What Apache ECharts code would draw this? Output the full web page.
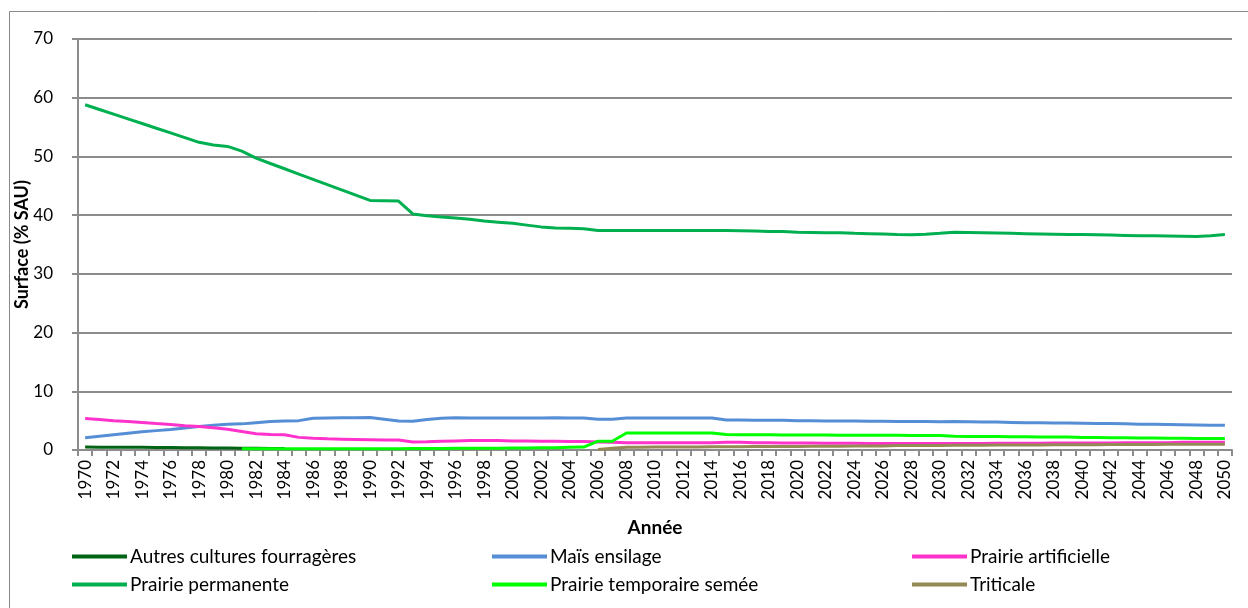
<!DOCTYPE html>
<html>
<head>
<meta charset="utf-8">
<script src="https://cdn.jsdelivr.net/npm/echarts@6/dist/echarts.min.js"></script>
<style>
html,body{margin:0;padding:0;background:#fff;}
#c{width:1248px;height:608px;}
</style>
</head>
<body>
<div id="c"></div>
<script>
var years = ['1970','1971','1972','1973','1974','1975','1976','1977','1978','1979',
'1980','1981','1982','1983','1984','1985','1986','1987','1988','1989',
'1990','1991','1992','1993','1994','1995','1996','1997','1998','1999',
'2000','2001','2002','2003','2004','2005','2006','2007','2008','2009',
'2010','2011','2012','2013','2014','2015','2016','2017','2018','2019',
'2020','2021','2022','2023','2024','2025','2026','2027','2028','2029',
'2030','2031','2032','2033','2034','2035','2036','2037','2038','2039',
'2040','2041','2042','2043','2044','2045','2046','2047','2048','2049',
'2050'];

var autresCultures = [0.5,0.48,0.47,0.46,0.45,0.44,0.42,0.4,0.38,0.36,
0.34,0.3,0.28,0.26,0.24,null,null,null,null,null,
null,null,null,null,null,null,null,null,null,null,
null,null,null,null,null,null,null,null,null,null,
null,null,null,null,null,null,null,null,null,null,
null,null,null,null,null,null,null,null,null,null,
null,null,null,null,null,null,null,null,null,null,
null,null,null,null,null,null,null,null,null,null,
null];

var maisEnsilage = [2.1,2.35,2.6,2.85,3.1,3.3,3.5,3.75,4.0,4.2,
4.4,4.45,4.65,4.85,4.95,5.0,5.4,5.45,5.5,5.5,
5.55,5.25,4.95,4.9,5.2,5.4,5.5,5.45,5.45,5.45,
5.45,5.45,5.45,5.5,5.45,5.45,5.25,5.25,5.45,5.45,
5.45,5.45,5.45,5.45,5.45,5.1,5.1,5.05,5.05,5.05,
5.0,5.0,4.95,4.95,4.95,4.9,4.9,4.85,4.85,4.85,
4.8,4.85,4.8,4.75,4.75,4.7,4.65,4.65,4.6,4.6,
4.55,4.5,4.5,4.45,4.4,4.4,4.35,4.3,4.25,4.2,
4.2];

var prairieArtificielle = [5.35,5.2,5.0,4.85,4.7,4.5,4.35,4.15,4.0,3.8,
3.55,3.15,2.75,2.65,2.6,2.15,2.0,1.9,1.85,1.8,
1.75,1.7,1.7,1.35,1.4,1.5,1.55,1.6,1.6,1.6,
1.55,1.55,1.5,1.5,1.45,1.45,1.35,1.3,1.25,1.25,
1.25,1.25,1.25,1.25,1.25,1.3,1.3,1.25,1.25,1.2,
1.2,1.2,1.15,1.15,1.15,1.1,1.1,1.1,1.1,1.1,
1.1,1.1,1.1,1.1,1.15,1.15,1.15,1.15,1.2,1.2,
1.2,1.2,1.2,1.25,1.25,1.25,1.25,1.3,1.3,1.3,
1.3];

var prairiePermanente = [58.8,58.0,57.2,56.4,55.6,54.8,54.0,53.2,52.4,51.95,
51.7,50.9,49.7,48.8,47.9,47.0,46.1,45.2,44.3,43.4,
42.5,42.45,42.4,40.2,39.9,39.7,39.5,39.3,39.0,38.8,
38.6,38.3,38.0,37.8,37.75,37.7,37.4,37.4,37.4,37.4,
37.4,37.4,37.4,37.4,37.4,37.4,37.35,37.3,37.2,37.2,
37.1,37.05,37.0,37.0,36.9,36.85,36.8,36.7,36.65,36.75,
36.9,37.1,37.05,37.0,36.95,36.9,36.85,36.8,36.75,36.7,
36.7,36.65,36.6,36.55,36.5,36.5,36.45,36.4,36.35,36.5,
36.7];

var prairieTemporaire = [null,null,null,null,null,null,null,null,null,null,
null,0.2,0.2,0.2,0.2,0.2,0.2,0.2,0.2,0.2,
0.2,0.2,0.2,0.25,0.25,0.25,0.3,0.3,0.3,0.3,
0.35,0.35,0.4,0.4,0.45,0.5,1.5,1.5,2.9,2.9,
2.9,2.9,2.9,2.9,2.9,2.65,2.6,2.6,2.6,2.55,
2.55,2.55,2.55,2.5,2.5,2.5,2.5,2.5,2.45,2.45,
2.45,2.35,2.3,2.3,2.3,2.25,2.25,2.2,2.2,2.2,
2.15,2.15,2.1,2.1,2.05,2.05,2.0,2.0,1.95,1.95,
1.95];

var triticale = [null,null,null,null,null,null,null,null,null,null,
null,null,null,null,null,null,null,null,null,null,
null,null,null,null,null,null,null,null,null,null,
null,null,null,null,null,null,0.1,0.3,0.45,0.45,
0.5,0.5,0.5,0.5,0.55,0.55,0.55,0.6,0.6,0.6,
0.6,0.65,0.65,0.65,0.7,0.7,0.7,0.75,0.75,0.75,
0.75,0.8,0.8,0.8,0.85,0.85,0.85,0.85,0.9,0.9,
0.9,0.9,0.95,0.95,0.95,0.95,1.0,1.0,1.0,1.0,
1.0];

var seriesNames = ['Autres cultures fourragères','Maïs ensilage','Prairie artificielle',
  'Prairie permanente','Prairie temporaire semée','Triticale'];
var seriesData = [autresCultures, maisEnsilage, prairieArtificielle,
  prairiePermanente, prairieTemporaire, triticale];
var seriesColors = ['#006414','#558ED5','#FF33CC','#00B050','#00FF00','#948A54'];

var FONT = 'Lato, "Open Sans", sans-serif';
var legendPos = [[67,542],[487,542],[907,542],[67,570],[487,570],[907,570]];

var chart = echarts.init(document.getElementById('c'), null, {renderer:'canvas'});
var option = {
  animation: false,
  textStyle: {fontFamily: FONT},
  graphic: [{
    type: 'rect', left: 7, top: 9,
    shape: {width: 1239, height: 597},
    style: {fill: 'none', stroke: '#8a8a8a', lineWidth: 1}
  }],
  grid: {left: 78, right: 16, top: 39, bottom: 158, containLabel: false, outerBoundsMode: 'none'},
  legend: seriesNames.map(function(n, i){
    return {
      data: [n], left: legendPos[i][0], top: legendPos[i][1],
      icon: 'rect', itemWidth: 55, itemHeight: 4, itemGap: 0,
      textStyle: {fontFamily: FONT, fontSize: 19, color: '#000', padding: [0,0,0,-2]},
      selectedMode: false
    };
  }),
  xAxis: {
    type: 'category', data: years, boundaryGap: true,
    name: 'Année', nameLocation: 'middle', nameGap: 68,
    nameTextStyle: {fontFamily: FONT, fontSize: 19, fontWeight: 'bold', color: '#000'},
    axisLine: {lineStyle: {color: '#8c8c8c', width: 2}},
    axisTick: {show: true, interval: 0, length: 6, alignWithLabel: false, lineStyle: {color: '#8c8c8c', width: 2}},
    axisLabel: {interval: 1, rotate: 90, fontSize: 17, color: '#000', margin: 10, fontFamily: FONT},
    splitLine: {show: false}
  },
  yAxis: {
    type: 'value', min: 0, max: 70, interval: 10,
    name: 'Surface (% SAU)', nameLocation: 'middle', nameGap: 47, nameRotate: 90,
    nameMoveOverlap: false,
    nameTextStyle: {fontFamily: FONT, fontSize: 18, fontWeight: 'bold', color: '#000'},
    axisLine: {show: true, lineStyle: {color: '#8c8c8c', width: 2}},
    axisTick: {show: true, length: 6, lineStyle: {color: '#8c8c8c', width: 2}},
    axisLabel: {fontSize: 17, color: '#000', margin: 25, fontFamily: FONT},
    splitLine: {show: true, lineStyle: {color: '#8c8c8c', width: 2}}
  },
  series: seriesNames.map(function(n, i){
    return {
      name: n, type: 'line', data: seriesData[i],
      showSymbol: false, symbol: 'none', connectNulls: false,
      lineStyle: {color: seriesColors[i], width: 3},
      itemStyle: {color: seriesColors[i]}
    };
  })
};
chart.setOption(option);
</script>
</body>
</html>
